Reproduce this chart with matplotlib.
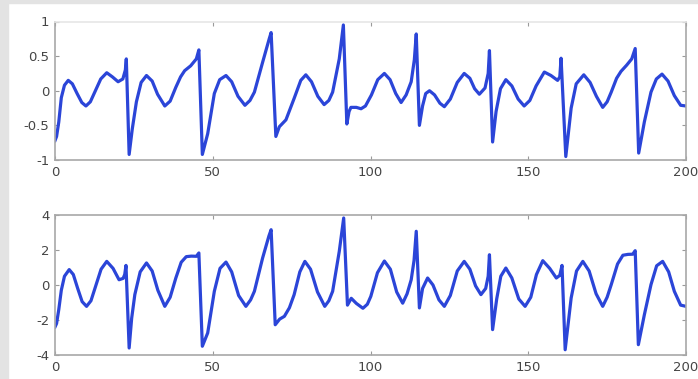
import matplotlib
matplotlib.use("Agg")
import matplotlib.pyplot as plt
from matplotlib.patches import Rectangle

# top signal (sample position, value)
top_x = [0.0, 0.5, 1.2, 2.0, 3.0, 4.2, 5.5, 7.0, 8.5, 9.8, 11.2, 12.8, 14.5, 16.4,
         18.2, 20.0, 21.5, 22.3, 22.6, 23.5, 24.5, 25.8, 27.3, 29.0, 30.8, 32.5,
         34.8, 36.5, 38.3, 39.8, 41.1, 43.0, 44.8, 45.6, 46.7, 48.4, 50.5, 52.2,
         54.2, 56.0, 58.0, 60.2, 61.8, 63.2, 65.8, 67.9, 68.5, 70.0, 71.1, 73.2,
         75.8, 77.9, 79.5, 81.3, 83.3, 85.3, 86.8, 88.0, 90.1, 91.4, 92.5, 93.2,
         93.8, 95.5, 97.0, 98.4, 100.3, 102.3, 104.4, 106.2, 108.0, 109.7, 111.3,
         112.9, 113.9, 114.5, 115.5, 116.5, 117.5, 118.7, 120.3, 122.0, 123.4,
         125.3, 127.5, 129.7, 131.5, 133.0, 134.5, 136.3, 137.3, 137.7, 138.7,
         139.8, 141.2, 142.9, 144.8, 146.8, 148.7, 150.5, 152.5, 155.1, 157.2,
         159.3, 160.0, 160.4, 161.9, 163.6, 165.2, 167.6, 169.6, 171.6, 173.6,
         175.0, 176.3, 178.0, 179.4, 181.2, 182.8, 183.9, 185.0, 186.8, 188.9,
         190.6, 192.4, 194.3, 196.3, 198.3, 200.0]
top_y = [-0.72, -0.66, -0.45, -0.10, 0.08, 0.15, 0.10, -0.04, -0.17, -0.22, -0.16,
         0.00, 0.17, 0.26, 0.20, 0.13, 0.17, 0.30, 0.46, -0.92, -0.55, -0.16, 0.12,
         0.22, 0.14, -0.05, -0.22, -0.15, 0.05, 0.20, 0.29, 0.36, 0.46, 0.59, -0.92,
         -0.62, -0.04, 0.16, 0.22, 0.13, -0.08, -0.21, -0.14, -0.02, 0.41, 0.75,
         0.84, -0.66, -0.52, -0.42, -0.11, 0.15, 0.23, 0.13, -0.08, -0.20, -0.14,
         -0.02, 0.46, 0.95, -0.48, -0.30, -0.24, -0.24, -0.26, -0.22, -0.06, 0.16,
         0.25, 0.16, -0.04, -0.17, -0.06, 0.13, 0.45, 0.82, -0.50, -0.22, -0.04,
         0.00, -0.06, -0.18, -0.23, -0.12, 0.12, 0.25, 0.18, 0.03, -0.05, 0.04,
         0.25, 0.58, -0.74, -0.30, 0.03, 0.16, 0.07, -0.12, -0.22, -0.14, 0.07,
         0.27, 0.22, 0.15, 0.20, 0.47, -0.95, -0.25, 0.10, 0.23, 0.12, -0.08,
         -0.24, -0.16, -0.02, 0.18, 0.28, 0.37, 0.46, 0.61, -0.90, -0.45, -0.02,
         0.17, 0.24, 0.14, -0.07, -0.21, -0.22]

# bottom signal
bot_x = [0.0, 0.5, 1.2, 2.0, 3.0, 4.5, 5.8, 7.2, 8.6, 10.0, 11.4, 13.0, 14.6, 16.4,
         18.4, 20.3, 21.6, 22.1, 22.5, 23.5, 24.3, 25.3, 27.0, 29.0, 30.8, 32.6,
         34.8, 36.5, 38.3, 40.0, 41.6, 43.2, 44.8, 45.6, 46.7, 48.4, 50.5, 52.3,
         54.2, 56.0, 58.2, 60.5, 62.0, 63.2, 65.8, 67.8, 68.5, 69.8, 71.2, 72.7,
         74.3, 75.8, 77.6, 79.2, 81.0, 83.2, 85.5, 86.8, 88.0, 90.1, 91.5, 92.7,
         93.9, 95.5, 97.6, 99.0, 100.1, 102.2, 104.4, 106.3, 108.3, 110.2, 111.6,
         112.9, 113.8, 114.5, 115.5, 116.5, 118.1, 119.8, 121.7, 123.4, 125.3,
         127.5, 129.7, 131.5, 133.3, 135.0, 136.5, 137.3, 137.7, 138.7, 140.0,
         141.3, 142.9, 144.8, 147.0, 149.0, 150.8, 152.6, 154.6, 156.8, 158.9,
         160.0, 160.7, 161.7, 163.6, 165.3, 167.3, 169.3, 171.5, 173.6, 175.0,
         176.3, 178.3, 180.0, 181.6, 183.1, 183.9, 184.9, 186.8, 188.9, 190.7,
         192.6, 194.5, 196.3, 198.3, 200.0]
bot_y = [-2.4, -2.2, -1.4, -0.3, 0.5, 0.88, 0.6, -0.2, -0.95, -1.22, -0.9, 0.0, 0.9,
         1.35, 0.95, 0.30, 0.38, 0.6, 1.12, -3.6, -1.9, -0.55, 0.75, 1.26, 0.8, -0.3,
         -1.22, -0.7, 0.4, 1.3, 1.62, 1.65, 1.64, 1.83, -3.5, -2.74, -0.36, 0.95,
         1.31, 0.75, -0.6, -1.22, -0.85, -0.36, 1.54, 2.8, 3.16, -2.27, -1.95,
         -1.79, -1.3, -0.55, 0.75, 1.35, 0.9, -0.4, -1.22, -0.9, -0.36, 1.92, 3.83,
         -1.15, -0.76, -1.05, -1.33, -1.1, -0.65, 0.7, 1.37, 0.9, -0.4, -1.04, -0.5,
         0.30, 1.4, 3.07, -1.31, -0.2, 0.40, 0.0, -0.85, -1.22, -0.6, 0.8, 1.35, 0.9,
         -0.05, -0.55, -0.2, 0.5, 1.73, -2.55, -0.8, 0.5, 0.97, 0.4, -0.8, -1.22,
         -0.7, 0.6, 1.39, 0.95, 0.40, 0.55, 1.12, -3.70, -0.74, 0.8, 1.35, 0.8, -0.5,
         -1.22, -0.7, 0.02, 1.2, 1.70, 1.75, 1.76, 1.96, -3.41, -1.70, 0.02, 1.1,
         1.35, 0.75, -0.36, -1.15, -1.22]

x_ticks = [0, 50, 100, 150, 200]
top_ticks = [-1, -0.5, 0, 0.5, 1]
top_labels = ["-1", "-0.5", "0", "0.5", "1"]
bot_ticks = [-4, -2, 0, 2, 4]

W, H = 698, 379
fig = plt.figure(figsize=(W / 100, H / 100), dpi=100)
fig.patch.set_facecolor("white")

# light grey frame of the screenshot
fig.patches.append(Rectangle((0, 0), 8 / W, 1, transform=fig.transFigure,
                             color="#e3e3e3", zorder=0))
fig.patches.append(Rectangle((0, 1 - 3 / H), 1, 3 / H, transform=fig.transFigure,
                             color="#e3e3e3", zorder=0))

left, width = 55 / W, 631 / W
ax1 = fig.add_axes([left, 1 - 160 / H, width, 138.5 / H])
ax2 = fig.add_axes([left, 1 - 355 / H, width, 140 / H])

line_color = "#2b45d8"
ax1.plot(top_x, top_y, color=line_color, lw=2.3, solid_joinstyle="round")
ax2.plot(bot_x, bot_y, color=line_color, lw=2.3, solid_joinstyle="round")

for ax, yt, yl, lim in [(ax1, top_ticks, top_labels, (-1, 1)),
                        (ax2, bot_ticks, [str(v) for v in bot_ticks], (-4, 4))]:
    ax.set_xlim(0, 200)
    ax.set_ylim(*lim)
    ax.set_xticks(x_ticks)
    ax.set_xticklabels([str(v) for v in x_ticks])
    ax.set_yticks(yt)
    ax.set_yticklabels(yl)
    ax.tick_params(direction="in", length=3, width=0.8, colors="#9a9a9a",
                   labelcolor="#454545", labelsize=9.5, top=True, right=True, pad=4)
    for s in ax.spines.values():
        s.set_color("#a8a8a8")
        s.set_linewidth(1.2)

ax1.spines["top"].set_color("#e6e6e6")

fig.savefig("out.png", dpi=100)
